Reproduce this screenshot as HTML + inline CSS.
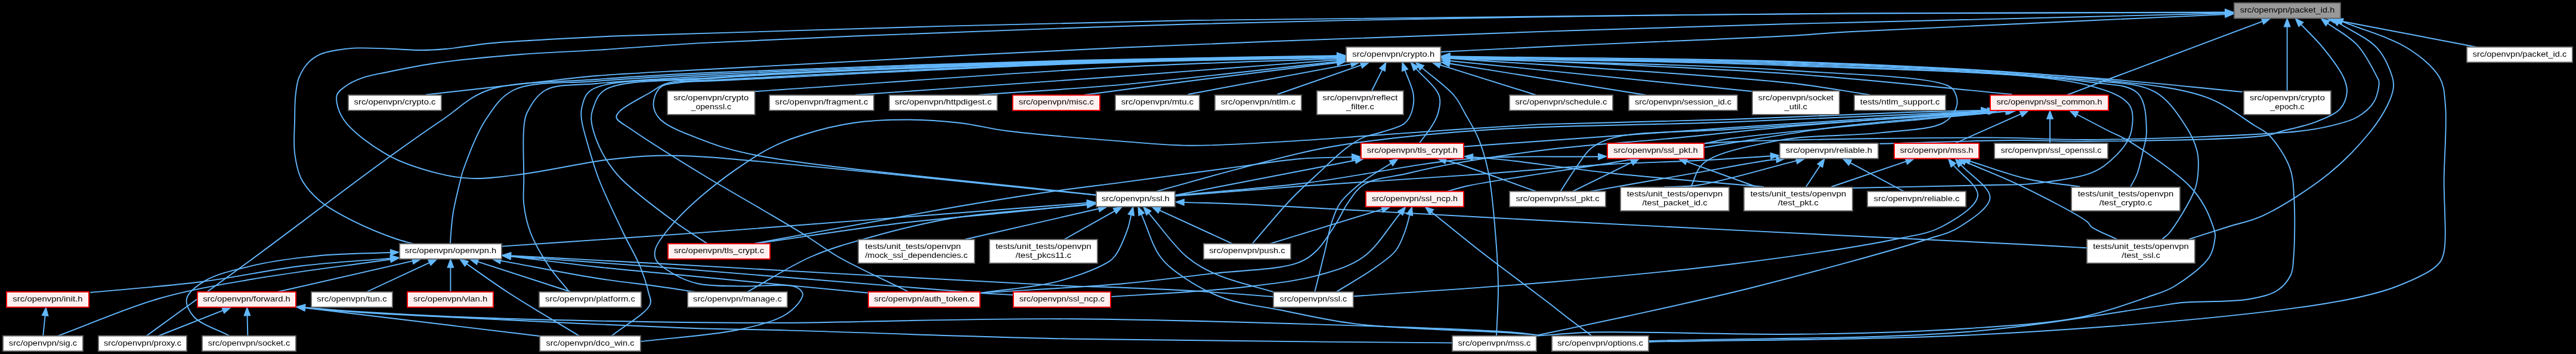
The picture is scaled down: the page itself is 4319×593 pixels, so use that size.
<!DOCTYPE html><html><head><meta charset="utf-8"><style>html,body{margin:0;padding:0;background:#000;}svg{display:block;will-change:transform}text{font-family:"Liberation Sans",sans-serif;font-size:13.4px;fill:#000}</style></head><body>
<svg width="4319" height="593" viewBox="0 0 4319 593">
<rect width="4319" height="593" fill="#000"/>
<g fill="none" stroke="#63b8ff" stroke-width="1.9">
<path d="M692.0,408.0C682.5,405.3 675.0,404.0 663.6,400.0C645.2,393.6 614.9,381.6 593.0,370.6C572.7,360.4 551.7,349.6 536.5,336.7C523.5,325.7 512.5,313.6 505.4,300.0C498.6,286.8 496.1,272.1 494.1,256.5C491.9,239.0 493.8,217.2 494.1,200.0C494.4,185.5 494.1,172.3 495.5,160.0C496.7,149.4 497.5,139.7 501.0,130.6C504.5,121.5 510.4,112.0 516.7,105.2C522.4,99.1 528.9,94.6 536.5,91.1C544.8,87.3 555.2,85.8 564.7,84.0C574.1,82.3 581.9,81.2 593.0,80.6C608.6,79.8 630.7,80.9 649.5,81.5C668.3,82.1 688.6,84.0 706.0,84.0C721.0,84.0 732.2,83.4 748.0,82.0C768.6,80.2 794.2,75.2 819.0,72.7C845.9,70.0 872.0,68.9 903.7,67.0C944.2,64.6 975.2,62.6 1042.0,60.0C1217.8,53.2 1717.8,39.4 2000.0,34.0C2223.3,29.8 2409.1,29.5 2600.0,27.5C2774.3,25.7 2923.6,23.6 3100.0,22.4C3298.4,21.1 3521.5,21.2 3732.3,20.5"/>
<path d="M1838.0,326.8C1618.7,305.4 1292.7,269.6 1180.0,262.7C1141.2,260.3 1128.2,259.9 1101.5,260.7C1073.8,261.5 1048.5,263.8 1016.7,267.8C975.5,273.0 916.7,286.6 875.5,291.8C843.7,295.8 816.1,299.7 790.7,298.9C769.9,298.2 754.6,295.6 734.2,290.4C708.5,283.8 675.6,274.1 649.5,259.3C622.8,244.2 589.2,220.0 576.0,200.0C567.3,186.8 562.4,169.7 564.7,160.0C566.4,153.1 572.9,149.2 578.9,144.7C586.3,139.1 596.4,134.4 607.0,130.6C619.5,126.1 632.9,124.2 649.5,120.7C672.8,115.8 702.1,109.7 734.0,105.2C775.0,99.4 829.8,94.6 875.5,91.0C918.3,87.6 954.7,86.7 1000.0,83.9C1054.5,80.5 1114.3,75.6 1180.0,71.9C1259.3,67.5 1338.8,64.2 1442.7,60.0C1593.9,53.9 1810.8,45.6 2000.0,40.3C2196.3,34.8 2409.1,31.0 2600.0,28.0C2774.3,25.3 2923.6,23.8 3100.0,22.6C3298.4,21.3 3521.5,21.6 3732.3,21.0"/>
<path d="M713.6,158.8C775.7,151.8 847.5,143.5 900.0,137.7C938.5,133.5 961.8,130.2 1000.0,127.0C1051.2,122.8 1100.4,120.9 1180.0,116.5C1337.0,107.8 1645.0,90.4 1880.0,79.8C2118.3,69.0 2395.0,59.5 2600.0,52.4C2752.8,47.1 2911.1,42.4 3000.0,40.0C3044.4,38.8 3052.3,38.9 3100.0,37.8C3219.9,35.0 3521.5,27.5 3732.3,22.3"/>
<path d="M245.0,563.0C303.3,520.7 357.6,481.9 420.0,436.0C492.5,382.7 594.3,305.0 654.0,262.0C690.4,235.8 714.1,219.2 742.7,200.0C768.8,182.4 786.2,162.3 818.6,151.0C864.7,134.9 938.0,137.9 1000.0,133.0C1065.0,127.9 1115.4,125.2 1200.0,121.3C1346.4,114.5 1615.1,105.7 1800.0,101.0C1958.9,96.9 2095.5,95.8 2243.3,93.2"/>
<path d="M755.0,408.0C755.1,405.3 755.1,403.7 755.4,400.0C756.0,391.3 757.2,371.9 759.7,356.5C762.6,338.8 769.2,312.9 772.4,300.0C774.1,293.3 774.1,291.7 776.6,284.7C782.7,267.7 799.1,223.3 814.7,200.0C828.0,180.1 838.7,162.1 861.0,151.0C893.1,135.1 949.4,140.2 1000.0,136.0C1060.6,130.9 1115.4,128.1 1200.0,124.0C1346.4,116.9 1615.1,107.1 1800.0,102.0C1958.9,97.6 2095.5,96.5 2243.3,93.8"/>
<path d="M954.6,489.0C943.3,474.8 931.1,462.2 920.7,446.5C909.3,429.4 896.7,408.5 889.6,390.0C883.4,373.9 880.1,357.9 878.3,342.4C876.6,328.0 878.3,316.6 878.3,300.0C878.3,276.3 876.2,234.0 878.3,214.0C879.4,203.1 879.4,197.7 883.6,189.0C889.4,177.0 899.5,159.4 914.7,151.0C934.8,139.9 965.5,143.3 1000.0,140.0C1052.6,134.9 1115.4,131.4 1200.0,127.0C1346.4,119.3 1615.1,108.5 1800.0,103.0C1958.9,98.3 2095.5,97.2 2243.3,94.3"/>
<path d="M1025.0,563.0C1046.7,545.3 1084.1,524.9 1090.0,510.0C1092.9,502.7 1089.1,497.9 1087.3,490.0C1084.6,478.2 1079.4,461.7 1073.2,446.5C1065.9,428.6 1055.1,411.1 1045.0,390.0C1032.4,363.6 1014.4,326.9 1004.0,300.0C995.9,278.9 990.7,260.2 985.6,242.4C981.3,227.3 976.3,211.5 975.0,200.0C974.1,192.4 973.6,187.5 975.4,180.6C977.7,171.5 979.4,158.9 991.0,151.0C1020.2,131.3 1112.3,136.1 1200.0,129.8C1348.3,119.1 1615.1,109.9 1800.0,104.0C1958.9,98.9 2095.5,97.9 2243.3,94.8"/>
<path d="M1185.6,408.0C1167.0,395.5 1150.1,385.6 1129.7,370.6C1103.4,351.2 1061.7,320.0 1042.0,300.0C1030.1,288.0 1023.8,279.1 1016.7,267.8C1009.9,257.0 1004.1,245.4 999.8,233.9C995.7,222.8 991.7,209.3 991.3,200.0C991.0,193.5 991.5,189.6 993.8,183.4C997.2,174.1 1000.4,159.4 1013.6,151.0C1043.0,132.4 1120.1,137.0 1200.0,131.0C1343.0,120.2 1615.1,111.0 1800.0,105.0C1958.9,99.8 2095.5,98.5 2243.3,95.3"/>
<path d="M1523.7,489.0C1484.1,469.3 1436.7,448.2 1405.0,430.0C1382.6,417.1 1369.4,406.1 1349.5,393.7C1326.9,379.6 1302.2,365.4 1276.0,350.0C1246.2,332.4 1213.7,314.3 1180.0,293.8C1141.8,270.5 1084.1,234.8 1059.0,217.0C1047.1,208.6 1034.8,203.2 1033.5,197.0C1032.7,193.2 1035.4,190.2 1039.0,186.3C1047.1,177.6 1075.3,163.6 1089.8,155.2C1100.5,149.0 1105.6,143.3 1118.0,139.7C1137.8,133.9 1160.1,136.3 1200.0,134.0C1307.9,127.7 1615.1,112.4 1800.0,106.0C1958.9,100.5 2095.5,99.2 2243.3,95.8"/>
<path d="M1838.0,326.8C1647.9,304.5 1374.2,281.1 1267.6,260.0C1225.2,251.6 1207.4,245.7 1180.0,235.3C1154.1,225.5 1120.1,213.4 1107.0,200.0C1099.4,192.2 1095.7,183.6 1095.5,175.0C1095.3,165.9 1099.8,152.9 1106.8,146.7C1114.3,140.1 1127.7,140.1 1140.7,138.2C1157.6,135.7 1169.9,136.8 1200.0,135.4C1295.7,130.9 1615.1,113.6 1800.0,107.0C1958.9,101.3 2095.5,99.9 2243.3,96.3"/>
<path d="M1074.0,572.0C1127.7,565.7 1191.5,562.0 1235.0,553.0C1265.6,546.7 1293.3,540.1 1311.9,530.0C1324.5,523.2 1334.5,513.9 1340.0,506.3C1343.5,501.4 1346.6,496.3 1345.8,492.1C1344.9,487.8 1340.9,483.5 1334.5,480.8C1319.0,474.2 1270.1,480.5 1241.2,479.4C1216.0,478.5 1190.8,479.7 1170.6,475.2C1154.3,471.6 1140.4,465.4 1128.2,458.2C1117.3,451.8 1104.3,443.6 1100.0,435.6C1097.0,430.0 1097.1,424.4 1098.6,418.2C1100.6,409.6 1107.2,400.7 1115.6,390.0C1129.6,372.1 1154.7,346.3 1180.0,325.0C1210.3,299.5 1255.5,267.2 1287.3,250.0C1310.1,237.7 1327.1,232.1 1349.5,225.0C1374.3,217.1 1402.2,210.1 1430.0,206.0C1459.0,201.7 1490.0,200.5 1520.0,200.5C1550.0,200.5 1581.1,202.7 1610.0,206.0C1637.1,209.1 1656.5,215.1 1688.5,219.3C1738.2,225.7 1824.5,232.4 1880.0,236.6C1922.6,239.9 1951.5,243.3 1993.0,243.7C2043.8,244.2 2108.6,239.6 2162.5,236.6C2211.7,233.8 2256.6,230.0 2303.7,226.7C2350.8,223.4 2398.4,219.9 2445.0,216.8C2490.5,213.8 2535.0,211.2 2580.0,208.4"/>
<path d="M841.6,412.6C954.4,404.9 1049.2,398.9 1180.0,389.4C1360.5,376.3 1609.5,356.3 1824.3,339.8"/>
<path d="M1252.5,489.3C1288.3,469.5 1323.8,445.7 1360.0,430.0C1393.9,415.3 1425.6,406.7 1462.5,396.5C1504.7,384.8 1548.3,373.4 1600.0,365.0C1665.4,354.4 1749.5,350.4 1824.3,343.0"/>
<path d="M1266.0,153.2C1470.7,139.6 1702.0,121.7 1880.0,112.3C2016.8,105.1 2122.2,102.8 2243.3,98.0"/>
<path d="M1434.0,159.0C1582.7,148.6 1739.0,138.1 1880.0,127.8C2007.3,118.5 2122.2,109.4 2243.3,100.2"/>
<path d="M1640.5,159.0C1720.3,153.3 1792.0,149.8 1880.0,141.9C1988.6,132.2 2122.2,116.0 2243.4,103.0"/>
<path d="M1818.0,159.0C1878.7,151.0 1934.9,143.3 2000.0,135.0C2075.2,125.4 2162.3,114.8 2243.4,104.7"/>
<path d="M1992.0,158.0L2266.7,106.9"/>
<path d="M2141.8,158.0L2283.5,108.7"/>
<path d="M2414.0,87.0C2476.0,83.9 2538.9,80.7 2600.0,77.8C2659.4,75.0 2713.6,72.8 2775.7,70.0C2845.9,66.9 2940.1,63.4 3000.0,60.0C3040.0,57.7 3052.3,55.9 3100.0,53.2C3219.9,46.4 3521.5,33.8 3732.3,24.1"/>
<path d="M2575.0,159.0L2413.2,108.3"/>
<path d="M2758.8,159.0L2429.0,106.3"/>
<path d="M2936.7,153.0L2429.1,101.7"/>
<path d="M3135.6,159.0C3090.4,152.3 3060.9,145.7 3000.0,139.0C2875.5,125.3 2619.5,111.4 2429.2,97.7"/>
<path d="M3373.0,158.0C3248.7,146.5 3137.6,133.3 3000.0,123.6C2830.0,111.6 2619.5,104.9 2429.2,95.6"/>
<path d="M3466.0,159.0C3491.5,149.3 3509.5,142.4 3542.4,130.0C3602.1,107.5 3710.6,66.8 3794.7,35.3"/>
<path d="M3834.7,152.0L3834.7,43.2"/>
<path d="M3759.9,153.9C3673.3,145.9 3600.8,137.2 3500.0,129.9C3360.4,119.8 3172.2,109.9 3000.0,104.0C2816.1,97.7 2619.5,97.5 2429.2,94.2"/>
<path d="M3670.3,400.6C3692.0,393.7 3714.1,386.8 3735.3,380.0C3755.8,373.5 3773.2,371.1 3795.5,360.6C3827.6,345.5 3874.3,315.3 3905.6,290.0C3932.7,268.0 3957.4,241.4 3974.6,220.0C3987.1,204.5 3996.3,189.8 4002.8,176.5C4007.8,166.4 4011.6,156.7 4012.7,148.2C4013.6,141.6 4013.4,137.3 4011.3,130.0C4007.7,117.3 3998.9,95.2 3985.9,80.8C3970.4,63.6 3942.0,52.0 3920.1,37.7"/>
<path d="M2765.0,572.7C2943.3,569.0 3129.4,569.7 3300.0,561.5C3456.9,554.0 3633.2,540.3 3751.0,527.6C3827.3,519.4 3889.9,511.3 3938.9,501.3C3971.1,494.7 3993.0,489.6 4017.8,480.0C4041.8,470.7 4073.2,456.9 4085.6,445.0C4092.4,438.5 4094.2,435.2 4096.9,425.2C4103.2,401.9 4097.2,341.6 4097.7,300.0C4098.2,258.7 4102.9,207.7 4100.0,176.5C4098.2,157.2 4098.6,144.5 4090.4,130.0C4080.2,112.1 4059.4,95.2 4036.7,80.8C4007.6,62.4 3962.9,50.7 3925.9,35.6"/>
<path d="M4156.0,79.5L3913.5,33.2"/>
<path d="M3572.3,312.6C3576.1,305.1 3580.4,298.7 3583.6,290.0C3587.6,279.2 3590.6,264.5 3593.2,252.4C3595.6,241.2 3599.2,232.6 3598.9,220.0C3598.5,202.4 3598.5,170.6 3584.7,156.7C3568.7,140.5 3540.4,142.8 3500.0,137.0C3403.2,123.0 3172.2,114.8 3000.0,108.0C2816.1,100.8 2619.5,100.2 2429.2,96.3"/>
<path d="M3625.0,400.6C3629.1,397.1 3632.5,395.7 3637.3,390.0C3648.1,377.1 3672.5,337.1 3679.7,318.2C3683.9,307.1 3684.5,300.1 3685.3,290.0C3686.2,278.4 3686.7,265.0 3683.6,252.4C3680.1,238.4 3673.4,224.4 3663.8,210.0C3651.6,191.7 3636.1,166.6 3613.0,153.9C3584.6,138.2 3551.3,140.0 3500.0,134.1C3392.8,121.7 3172.2,112.2 3000.0,106.0C2816.1,99.3 2619.5,99.8 2429.2,96.7"/>
<path d="M2765.0,571.0C2943.3,565.9 3144.8,568.5 3300.0,555.8C3420.4,546.0 3565.0,520.3 3619.4,512.6C3638.1,509.9 3641.1,508.6 3657.0,507.0C3684.5,504.3 3740.2,506.5 3769.8,501.3C3789.7,497.8 3806.3,494.4 3818.6,486.3C3828.7,479.6 3836.6,469.7 3841.0,460.0C3845.1,451.0 3844.5,443.4 3845.5,430.8C3847.4,407.7 3848.1,359.9 3846.3,332.4C3845.0,312.3 3845.2,297.4 3839.0,280.6C3832.2,262.1 3816.8,239.1 3805.0,227.0C3796.8,218.6 3790.7,216.9 3779.7,210.0C3760.3,197.9 3732.4,174.7 3697.7,162.4C3647.3,144.5 3581.2,140.0 3500.0,131.3C3371.6,117.6 3172.2,109.1 3000.0,103.0C2816.1,96.5 2619.5,97.8 2429.2,95.2"/>
<path d="M2575.6,562.9C2605.3,560.8 2625.0,557.9 2664.6,556.7C2743.4,554.3 2907.7,561.2 3019.0,559.8C3118.1,558.5 3215.8,555.8 3300.0,550.2C3369.0,545.6 3433.7,542.1 3487.9,531.4C3530.7,522.9 3571.8,507.6 3600.6,497.6C3619.0,491.2 3629.9,489.0 3645.0,480.0C3664.2,468.6 3693.4,447.4 3704.2,430.8C3711.5,419.6 3713.2,404.1 3714.0,397.0C3714.4,393.8 3714.3,393.3 3713.6,390.0C3711.8,381.6 3704.0,359.9 3696.6,346.5C3689.3,333.3 3682.8,323.2 3669.5,310.0C3647.4,288.0 3592.4,250.4 3567.8,235.4C3554.9,227.5 3548.5,226.0 3536.7,220.0C3520.8,211.9 3499.6,200.6 3481.0,191.0"/>
<path d="M151.3,490.0C213.4,484.0 277.2,479.7 337.7,472.0C395.6,464.6 452.2,451.8 507.0,445.2C558.2,439.0 606.5,436.8 656.3,432.6"/>
<path d="M72.2,563.0L75.8,527.2"/>
<path d="M96.3,563.0C153.2,542.0 210.8,516.1 267.0,500.0C319.5,485.0 365.2,477.8 422.5,467.8C492.4,455.6 578.4,445.4 656.4,434.2"/>
<path d="M264.9,563.0L375.3,519.4"/>
<path d="M415.4,563.0L414.5,527.2"/>
<path d="M385.3,563.0C365.2,552.2 336.6,543.6 325.0,530.5C317.0,521.5 311.0,509.8 313.0,500.4C315.3,489.6 329.6,478.9 343.4,470.6C362.7,459.0 393.5,452.0 422.5,445.2C456.5,437.2 497.1,431.9 535.5,428.2C575.0,424.4 616.0,424.7 656.3,423.0"/>
<path d="M464.9,489.0L693.2,436.9"/>
<path d="M614.6,489.0L721.3,439.4"/>
<path d="M755.4,489.0L755.4,446.5"/>
<path d="M971.7,563.0C931.8,538.7 886.4,512.4 852.0,490.0C825.0,472.5 804.8,457.4 781.2,441.1"/>
<path d="M957.4,489.0L799.5,437.9"/>
<path d="M1166.0,489.0C1145.7,486.0 1128.1,483.2 1105.0,480.0C1074.7,475.7 1038.7,472.1 1000.0,466.0C951.7,458.4 891.9,446.2 837.9,436.4"/>
<path d="M904.8,563.0L509.7,515.5"/>
<path d="M2576.6,561.0C2560.4,559.3 2553.8,557.7 2528.0,556.0C2428.4,549.4 2017.6,536.1 1800.0,534.3C1623.1,532.8 1438.3,540.2 1319.0,540.7C1248.3,541.0 1216.5,540.9 1150.0,540.0C1054.3,538.7 900.4,535.7 800.0,532.0C724.0,529.2 653.6,525.4 600.0,522.0C564.0,519.7 539.8,517.3 509.7,515.0"/>
<path d="M2434.7,574.4C2223.1,572.2 1996.9,571.8 1800.0,567.8C1628.6,564.3 1438.3,556.6 1319.0,553.4C1248.3,551.5 1216.5,551.8 1150.0,549.5C1054.3,546.2 900.4,538.4 800.0,533.5C724.1,529.8 653.6,526.6 600.0,523.0C564.0,520.6 539.8,518.0 509.7,515.5"/>
<path d="M1456.0,490.7C1337.3,479.4 1182.2,464.7 1100.0,456.8C1056.4,452.6 1036.4,451.0 1000.0,447.0C956.0,442.2 903.1,435.2 854.7,429.3"/>
<path d="M1698.0,494.0C1679.3,492.9 1670.2,492.7 1642.0,490.7C1554.1,484.6 1245.3,458.1 1100.0,447.0C1002.3,439.5 936.5,435.2 854.7,429.3"/>
<path d="M2134.8,496.9C2092.5,493.9 2052.3,490.4 2008.0,487.8C1959.2,484.9 1892.2,482.2 1854.0,480.8C1831.4,480.0 1828.2,480.5 1800.0,479.4C1698.5,475.3 1273.5,450.7 1100.0,441.3C997.3,435.7 936.5,432.5 854.7,428.1"/>
<path d="M1264.7,408.0C1370.7,388.7 1491.4,365.7 1582.6,350.0C1651.2,338.2 1709.7,328.6 1763.4,320.8C1806.5,314.5 1835.9,311.4 1880.0,305.6C1937.7,298.0 2024.8,286.1 2080.0,278.9C2119.0,273.8 2147.6,268.6 2180.0,266.0C2210.3,263.5 2238.8,264.0 2268.3,262.9"/>
<path d="M1268.0,408.0C1345.3,397.0 1425.4,384.0 1500.0,375.0C1569.0,366.6 1641.2,361.0 1700.0,355.0C1746.3,350.3 1782.9,346.4 1824.3,342.1"/>
<path d="M1617.9,401.0L1843.7,349.3"/>
<path d="M1784.5,401.0L1870.3,352.7"/>
<path d="M1645.2,490.7C1686.6,484.6 1733.1,481.5 1769.5,472.4C1799.2,465.0 1831.4,453.1 1848.6,444.1C1857.9,439.3 1862.4,437.1 1868.4,430.0C1877.0,419.8 1885.6,397.7 1890.4,384.4C1893.9,374.8 1894.7,367.2 1896.8,358.7"/>
<path d="M2576.6,561.0C2560.4,559.8 2550.6,558.9 2528.0,557.4C2476.4,554.0 2343.7,551.0 2273.7,542.6C2223.8,536.6 2185.6,526.9 2146.6,519.3C2113.1,512.8 2081.4,509.9 2053.4,500.0C2028.3,491.2 2004.6,478.1 1985.6,465.2C1969.7,454.4 1956.7,445.4 1945.4,430.0C1931.6,411.3 1924.0,381.9 1913.3,357.8"/>
<path d="M2134.8,489.0C2103.9,479.6 2068.0,472.1 2042.0,460.7C2021.4,451.7 2006.7,444.3 1989.5,430.0C1967.6,411.8 1946.6,380.5 1925.1,355.8"/>
<path d="M2066.6,408.3L1942.8,351.7"/>
<path d="M2129.0,408.3L2318.7,350.2"/>
<path d="M2099.6,408.3C2120.9,383.9 2143.3,356.1 2163.4,335.0C2179.9,317.7 2194.9,304.5 2210.5,290.0C2225.6,276.0 2242.0,259.8 2255.7,249.3C2265.9,241.5 2273.8,235.7 2284.0,231.0C2294.4,226.2 2306.4,224.9 2317.8,221.0C2329.9,216.9 2346.4,213.5 2354.6,207.0C2360.5,202.3 2363.4,196.8 2366.0,190.0C2369.1,181.7 2371.1,170.8 2370.0,160.0C2368.7,146.6 2360.1,130.8 2355.1,116.2"/>
<path d="M2380.0,239.5C2386.6,230.5 2394.4,221.4 2399.8,212.6C2404.5,204.9 2408.8,198.3 2411.0,190.0C2413.4,180.9 2416.2,170.3 2412.7,160.0C2407.8,145.3 2386.5,129.3 2373.4,114.0"/>
<path d="M2509.0,563.0C2510.0,535.3 2512.2,507.4 2512.0,480.0C2511.8,453.1 2510.3,428.7 2508.0,400.0C2505.3,366.2 2501.9,320.6 2495.8,290.0C2491.3,267.5 2486.0,249.8 2478.9,232.4C2472.5,216.8 2463.6,202.8 2456.3,190.0C2450.0,179.0 2446.8,170.4 2438.0,160.0C2425.3,145.0 2401.4,128.4 2383.0,112.6"/>
<path d="M1969.0,327.3L2274.0,268.2"/>
<path d="M1969.0,327.3C2041.3,320.5 2109.6,316.2 2186.0,307.0C2272.1,296.6 2373.3,273.5 2460.0,266.3C2537.5,259.9 2607.5,263.6 2681.3,262.2"/>
<path d="M1969.0,328.5C2041.3,322.8 2109.4,317.0 2186.0,311.5C2272.0,305.3 2371.7,299.7 2460.0,293.4C2542.7,287.5 2629.3,279.2 2700.0,275.0C2755.8,271.7 2802.8,271.3 2850.0,268.8C2892.3,266.6 2930.2,263.7 2970.3,261.2"/>
<path d="M1939.3,320.4C1986.2,307.6 2034.9,293.7 2080.0,281.9C2121.5,271.0 2163.6,259.6 2200.0,252.0C2229.9,245.7 2248.4,242.5 2282.5,238.0C2337.7,230.7 2416.4,222.3 2500.0,217.0C2613.1,209.8 2764.0,209.6 2900.0,204.5C3041.7,199.2 3189.2,192.0 3333.8,185.8"/>
<path d="M2455.0,245.5C2603.3,235.0 2752.4,224.0 2900.0,214.0C3046.0,204.1 3190.5,195.4 3335.8,186.0"/>
<path d="M2857.6,240.7C2871.7,237.9 2878.2,235.5 2900.0,232.3C2971.7,221.7 3209.5,201.7 3364.3,186.5"/>
<path d="M2616.3,320.6C2625.2,307.1 2633.9,292.6 2643.0,280.0C2651.3,268.5 2657.6,256.1 2668.4,247.8C2679.9,239.0 2691.0,234.2 2710.7,229.4C2750.7,219.7 2822.9,221.8 2900.0,216.7C3021.3,208.7 3212.0,196.3 3368.0,186.1"/>
<path d="M2575.6,320.6C2530.4,304.7 2463.9,280.1 2440.0,273.0C2431.6,270.5 2428.4,270.2 2422.7,268.8"/>
<path d="M2636.7,320.6L2737.1,271.4"/>
<path d="M2666.0,320.6C2726.3,310.0 2793.3,298.2 2846.9,288.9C2889.9,281.4 2941.6,271.7 2963.0,268.8C2971.1,267.7 2974.2,267.7 2979.8,267.1"/>
<path d="M2790.0,313.3C2810.0,312.1 2825.3,313.5 2850.0,309.7C2891.3,303.4 2958.9,282.5 3013.4,268.9"/>
<path d="M3028.0,313.0L3052.3,276.2"/>
<path d="M3191.8,320.5L3100.8,271.8"/>
<path d="M3070.3,313.0L3197.4,269.9"/>
<path d="M3104.0,315.0C3186.0,313.2 3299.0,310.9 3350.0,309.7C3373.0,309.2 3380.5,310.2 3400.0,308.4C3427.7,305.8 3477.3,299.3 3500.0,291.9C3512.6,287.8 3518.7,284.5 3528.0,277.8C3539.4,269.5 3554.2,255.0 3562.0,244.0C3567.8,235.8 3571.6,229.5 3573.4,220.0C3575.7,207.9 3578.6,188.4 3570.6,176.5C3559.8,160.5 3535.5,151.9 3500.0,142.6C3410.1,119.0 3172.3,117.5 3000.0,110.0C2816.1,102.0 2619.5,101.5 2429.2,97.3"/>
<path d="M2957.0,313.0C2871.3,305.3 2777.9,298.4 2700.0,290.0C2634.9,283.0 2563.2,272.1 2521.0,267.6C2498.0,265.2 2485.5,264.5 2467.7,262.9"/>
<path d="M2945.0,313.0L2826.2,270.1"/>
<path d="M3278.0,240.0L3389.7,190.3"/>
<path d="M3437.0,239.0L3437.0,197.7"/>
<path d="M3151.2,240.7C3227.5,238.8 3315.9,235.3 3380.0,235.0C3426.4,234.8 3451.0,237.2 3500.0,236.8C3577.4,236.1 3754.5,233.8 3799.4,227.0C3812.7,225.0 3814.7,222.8 3824.9,220.0C3840.0,215.9 3864.3,211.5 3881.4,204.7C3896.9,198.6 3914.8,192.0 3923.7,182.1C3930.8,174.2 3934.3,163.0 3935.0,153.9C3935.6,145.7 3933.4,139.0 3929.4,130.0C3923.2,116.0 3907.8,96.0 3895.5,80.8C3883.6,66.0 3869.8,53.5 3857.0,39.9"/>
<path d="M2858.0,240.0C2883.6,238.8 2898.9,237.4 2934.7,236.3C3017.9,233.7 3246.1,230.1 3350.0,230.6C3412.5,230.9 3439.5,234.5 3500.0,234.0C3592.9,233.2 3785.8,227.0 3853.0,220.0C3880.1,217.2 3892.2,214.7 3909.6,210.4C3924.9,206.6 3939.9,203.3 3952.0,196.3C3963.1,189.8 3974.1,181.0 3980.2,170.8C3986.0,161.1 3989.2,144.0 3988.7,137.0C3988.5,133.7 3987.6,133.3 3985.9,130.0C3981.0,120.3 3966.2,90.6 3952.0,75.2C3938.0,60.1 3918.3,50.5 3901.5,38.2"/>
<path d="M2580.0,208.4C2686.7,205.6 2795.1,203.5 2900.0,200.0C3001.6,196.6 3121.9,190.5 3200.0,188.0C3250.1,186.4 3282.2,185.9 3323.3,184.9"/>
<path d="M1645.2,490.7C1724.3,485.5 1812.7,481.4 1882.5,475.2C1937.8,470.3 1981.9,464.1 2030.8,458.4C2078.8,452.8 2143.0,451.9 2173.4,441.2C2189.5,435.5 2196.9,429.8 2207.3,420.0C2219.9,408.1 2231.9,387.0 2241.2,372.4C2248.6,360.8 2252.3,350.4 2259.7,340.0C2267.6,329.0 2274.6,316.4 2287.6,308.5C2304.8,298.1 2335.0,296.2 2358.8,290.7C2382.5,285.2 2401.1,280.7 2430.0,275.4C2474.4,267.3 2540.9,257.1 2600.0,250.0C2663.9,242.4 2733.3,238.3 2800.0,232.0C2866.7,225.7 2924.7,218.7 3000.0,212.0C3097.6,203.4 3224.2,194.8 3336.3,186.2"/>
<path d="M2204.5,488.6C2210.2,465.7 2216.5,440.8 2221.5,420.0C2225.7,402.7 2228.1,386.6 2232.8,372.4C2236.8,360.4 2239.8,350.3 2247.0,340.0C2255.5,327.9 2269.1,316.7 2282.6,306.0C2297.6,294.1 2316.5,283.8 2333.5,272.7"/>
<path d="M2241.2,488.6C2260.8,476.4 2282.6,464.3 2300.0,452.0C2315.0,441.4 2330.5,432.0 2340.0,420.0C2348.1,409.8 2351.9,397.3 2356.0,386.5C2359.6,376.9 2361.3,367.9 2363.9,358.6"/>
<path d="M1863.6,496.9C1911.8,493.9 1965.5,491.1 2008.2,487.8C2042.3,485.2 2068.0,483.4 2100.0,479.3C2135.5,474.7 2178.7,470.1 2211.7,460.7C2239.6,452.8 2264.3,446.1 2286.4,430.0C2310.6,412.4 2328.0,380.7 2348.7,356.1"/>
<path d="M2668.0,562.0C2653.8,551.3 2637.7,539.5 2625.4,530.0C2615.8,522.6 2611.6,519.0 2600.0,510.0C2575.0,490.7 2516.8,447.9 2481.0,420.0C2451.0,396.6 2426.4,376.2 2399.2,354.4"/>
<path d="M3498.6,415.3C3482.4,414.4 3466.3,413.4 3450.0,412.5C3433.5,411.6 3426.7,411.2 3400.0,409.8C3293.3,404.3 2835.5,382.3 2600.0,370.0C2413.8,360.3 2208.5,347.5 2100.0,342.7C2047.7,340.4 2022.5,340.1 1983.7,338.9"/>
<path d="M2269.5,496.3C2379.7,488.4 2491.6,481.8 2600.0,472.5C2705.2,463.5 2810.6,454.2 2910.7,441.5C3004.9,429.6 3122.7,412.6 3184.0,399.5C3215.6,392.8 3233.4,391.5 3255.0,380.0C3277.6,368.0 3314.3,346.1 3316.0,327.8C3317.6,311.1 3288.2,293.0 3274.3,275.5"/>
<path d="M2575.6,562.0C2626.0,551.3 2671.9,542.1 2726.8,530.0C2792.9,515.4 2867.5,499.6 2944.8,480.0C3033.9,457.5 3172.8,420.0 3230.6,401.0C3256.4,392.5 3268.6,390.8 3285.6,380.0C3304.2,368.2 3335.9,348.2 3336.5,331.0C3337.2,313.3 3303.3,293.8 3286.7,275.2"/>
<path d="M3548.9,400.6C3534.8,393.7 3514.2,386.1 3506.5,380.0C3502.9,377.1 3504.1,375.3 3500.0,371.9C3485.8,360.0 3423.5,328.4 3387.4,310.9C3355.2,295.3 3325.3,284.2 3294.2,270.8"/>
<path d="M3487.6,312.6C3458.4,308.4 3429.8,306.7 3400.0,300.0C3367.8,292.8 3334.1,279.7 3301.2,269.6"/>
<path d="M2300.0,152.0L2318.2,115.6"/>
<path d="M2835.0,313.0C2842.2,299.7 2842.9,284.1 2856.6,273.0C2880.0,254.0 2937.8,243.5 2983.7,235.0C3035.6,225.4 3103.3,228.2 3153.0,222.4C3192.6,217.8 3238.3,217.3 3259.0,205.4C3270.5,198.8 3277.0,188.5 3280.0,180.0C3282.3,173.4 3281.8,165.9 3279.7,160.0C3277.7,154.2 3276.1,149.2 3268.0,144.7C3237.6,127.8 3106.2,125.1 3000.0,118.0C2845.4,107.6 2619.5,104.6 2429.2,97.9"/>
<path d="M2425.5,321.0C2437.0,317.8 2443.2,315.2 2460.0,311.5C2503.8,302.0 2623.7,285.4 2700.0,273.0C2769.7,261.7 2833.3,250.5 2900.0,240.0C2966.6,229.5 3028.5,218.5 3100.0,210.0C3182.0,200.2 3276.7,194.2 3365.0,186.4"/>
</g><g fill="#63b8ff" stroke="#63b8ff" stroke-width="1.33">
<polygon points="3744.8,20.5 3730.8,25.7 3730.7,15.3"/>
<polygon points="3744.8,21.0 3730.8,26.2 3730.7,15.8"/>
<polygon points="3744.8,22.0 3730.9,27.5 3730.6,17.2"/>
<polygon points="2255.8,93.0 2241.8,98.5 2241.7,88.1"/>
<polygon points="2255.8,93.5 2241.8,99.0 2241.7,88.6"/>
<polygon points="2255.8,94.0 2241.9,99.5 2241.7,89.1"/>
<polygon points="2255.8,94.5 2241.9,100.0 2241.6,89.6"/>
<polygon points="2255.8,95.0 2241.9,100.5 2241.6,90.1"/>
<polygon points="2255.8,95.5 2241.9,101.0 2241.6,90.7"/>
<polygon points="2255.8,96.0 2241.9,101.6 2241.6,91.2"/>
<polygon points="1836.7,338.9 1823.2,345.1 1822.4,334.8"/>
<polygon points="1836.7,341.8 1823.3,348.4 1822.3,338.0"/>
<polygon points="2255.8,97.5 2242.0,103.3 2241.6,92.9"/>
<polygon points="2255.8,99.2 2242.2,105.5 2241.4,95.1"/>
<polygon points="2255.8,101.7 2242.4,108.3 2241.3,98.0"/>
<polygon points="2255.8,103.1 2242.6,110.0 2241.3,99.7"/>
<polygon points="2279.0,104.6 2266.2,112.3 2264.3,102.0"/>
<polygon points="2295.3,104.6 2283.8,114.1 2280.4,104.3"/>
<polygon points="3744.8,23.5 3731.0,29.3 3730.5,19.0"/>
<polygon points="2401.3,104.6 2416.2,103.8 2413.1,113.7"/>
<polygon points="2416.7,104.4 2431.3,101.4 2429.7,111.7"/>
<polygon points="2416.6,100.4 2431.1,96.6 2430.0,107.0"/>
<polygon points="2416.8,96.8 2431.1,92.6 2430.3,103.0"/>
<polygon points="2416.8,94.9 2431.0,90.4 2430.5,100.8"/>
<polygon points="3806.4,30.9 3795.1,40.7 3791.5,30.9"/>
<polygon points="3834.7,30.8 3839.9,44.8 3829.5,44.8"/>
<polygon points="2416.8,94.0 2430.8,89.0 2430.7,99.4"/>
<polygon points="3909.7,30.8 3924.2,34.1 3918.5,42.8"/>
<polygon points="3914.4,30.9 3929.3,31.4 3925.4,41.0"/>
<polygon points="3901.2,30.9 3916.0,28.4 3914.0,38.6"/>
<polygon points="2416.8,96.0 2430.9,91.1 2430.6,101.5"/>
<polygon points="2416.8,96.5 2430.8,91.5 2430.7,101.9"/>
<polygon points="2416.8,95.0 2430.8,90.0 2430.7,100.4"/>
<polygon points="3469.9,185.2 3484.8,187.1 3480.0,196.3"/>
<polygon points="668.7,431.5 655.2,437.9 654.4,427.5"/>
<polygon points="77.1,514.8 80.8,529.2 70.5,528.2"/>
<polygon points="668.7,432.4 655.6,439.5 654.1,429.2"/>
<polygon points="386.9,514.9 375.8,524.8 372.0,515.2"/>
<polygon points="414.2,514.8 419.7,528.6 409.3,528.9"/>
<polygon points="668.7,422.5 655.0,428.3 654.5,417.9"/>
<polygon points="705.4,434.1 692.9,442.3 690.6,432.2"/>
<polygon points="732.7,434.1 722.2,444.7 717.8,435.3"/>
<polygon points="755.4,434.0 760.6,448.0 750.2,448.0"/>
<polygon points="770.9,434.0 785.4,437.7 779.5,446.2"/>
<polygon points="787.7,434.1 802.6,433.4 799.4,443.3"/>
<polygon points="825.6,434.1 840.3,431.5 838.4,441.7"/>
<polygon points="497.3,514.0 511.8,510.5 510.5,520.8"/>
<polygon points="497.3,514.0 511.6,509.9 510.8,520.3"/>
<polygon points="497.3,514.5 511.6,510.5 510.8,520.8"/>
<polygon points="842.3,427.8 856.8,424.3 855.5,434.6"/>
<polygon points="842.3,428.4 856.6,424.2 855.8,434.6"/>
<polygon points="842.3,427.4 856.5,423.0 856.0,433.4"/>
<polygon points="2280.8,262.5 2266.9,268.2 2266.6,257.8"/>
<polygon points="1836.7,340.8 1823.4,347.4 1822.3,337.1"/>
<polygon points="1855.9,346.5 1843.4,354.7 1841.1,344.6"/>
<polygon points="1881.1,346.5 1871.5,357.9 1866.4,348.9"/>
<polygon points="1899.8,346.5 1901.5,361.4 1891.4,358.9"/>
<polygon points="1908.2,346.4 1918.6,357.0 1909.1,361.3"/>
<polygon points="1916.9,346.4 1930.0,353.5 1922.2,360.3"/>
<polygon points="1931.5,346.5 1946.4,347.6 1942.0,357.0"/>
<polygon points="2330.7,346.5 2318.8,355.6 2315.8,345.6"/>
<polygon points="2351.1,104.4 2360.5,116.0 2350.7,119.3"/>
<polygon points="2365.3,104.5 2378.3,111.8 2370.4,118.5"/>
<polygon points="2373.6,104.5 2387.6,109.7 2380.8,117.5"/>
<polygon points="2286.2,265.9 2273.5,273.6 2271.5,263.4"/>
<polygon points="2693.8,262.0 2679.8,267.5 2679.7,257.1"/>
<polygon points="2982.8,260.4 2969.1,266.5 2968.5,256.1"/>
<polygon points="3346.3,185.2 3332.5,191.0 3332.0,180.7"/>
<polygon points="3348.3,185.2 3334.6,191.3 3334.0,180.9"/>
<polygon points="3376.7,185.2 3363.3,191.8 3362.3,181.4"/>
<polygon points="3380.5,185.2 3366.8,191.4 3366.2,181.0"/>
<polygon points="2410.5,265.9 2425.3,264.1 2422.9,274.2"/>
<polygon points="2748.3,265.9 2738.0,276.7 2733.4,267.4"/>
<polygon points="2992.2,265.9 2978.8,272.4 2977.8,262.1"/>
<polygon points="3025.5,265.9 3013.2,274.3 3010.6,264.2"/>
<polygon points="3059.1,265.8 3055.8,280.3 3047.1,274.6"/>
<polygon points="3089.8,265.9 3104.6,267.9 3099.7,277.1"/>
<polygon points="3209.3,265.8 3197.7,275.3 3194.3,265.4"/>
<polygon points="2416.8,97.0 2430.9,92.1 2430.6,102.5"/>
<polygon points="2455.3,261.8 2469.7,257.9 2468.8,268.2"/>
<polygon points="2814.5,265.9 2829.4,265.7 2825.9,275.5"/>
<polygon points="3401.1,185.2 3390.4,195.6 3386.2,186.1"/>
<polygon points="3437.0,185.2 3442.2,199.2 3431.8,199.2"/>
<polygon points="3848.4,30.8 3861.8,37.4 3854.2,44.6"/>
<polygon points="3891.4,30.8 3905.8,34.9 3899.6,43.3"/>
<polygon points="3335.8,184.6 3321.9,190.2 3321.6,179.8"/>
<polygon points="3348.8,185.2 3335.2,191.5 3334.4,181.1"/>
<polygon points="2343.9,265.9 2335.1,277.9 2329.4,269.2"/>
<polygon points="2367.3,346.5 2368.5,361.4 2358.5,358.6"/>
<polygon points="2356.8,346.5 2351.8,360.6 2343.8,353.9"/>
<polygon points="2389.4,346.5 2403.6,351.2 2397.1,359.3"/>
<polygon points="1971.3,338.4 1985.4,333.7 1985.1,344.1"/>
<polygon points="3266.5,265.8 3279.3,273.5 3271.2,280.0"/>
<polygon points="3278.3,265.9 3291.5,272.9 3283.8,279.8"/>
<polygon points="3282.8,265.8 3297.7,266.6 3293.6,276.2"/>
<polygon points="3289.2,265.9 3304.1,265.0 3301.1,275.0"/>
<polygon points="2323.8,104.4 2322.2,119.3 2312.9,114.6"/>
<polygon points="2416.8,97.5 2430.9,92.8 2430.6,103.2"/>
<polygon points="3377.5,185.2 3364.0,191.7 3363.1,181.3"/>
</g>
<rect x="3746.00" y="5.00" width="178.00" height="25.60" fill="#999999" stroke="#666666" stroke-width="1.9"/>
<text x="3835.00" y="21.10" text-anchor="middle" textLength="158.63" lengthAdjust="spacingAndGlyphs">src/openvpn/packet_id.h</text>
<rect x="2257.00" y="78.70" width="158.50" height="25.60" fill="#ffffff" stroke="#666666" stroke-width="1.9"/>
<text x="2336.25" y="94.80" text-anchor="middle" textLength="138.00" lengthAdjust="spacingAndGlyphs">src/openvpn/crypto.h</text>
<rect x="4136.00" y="78.70" width="177.00" height="25.60" fill="#ffffff" stroke="#666666" stroke-width="1.9"/>
<text x="4224.50" y="94.80" text-anchor="middle" textLength="157.54" lengthAdjust="spacingAndGlyphs">src/openvpn/packet_id.c</text>
<rect x="584.00" y="159.35" width="156.00" height="25.60" fill="#ffffff" stroke="#666666" stroke-width="1.9"/>
<text x="662.00" y="175.45" text-anchor="middle" textLength="136.91" lengthAdjust="spacingAndGlyphs">src/openvpn/crypto.c</text>
<rect x="1119.00" y="152.35" width="146.60" height="39.60" fill="#ffffff" stroke="#666666" stroke-width="1.9"/>
<text x="1192.30" y="167.95" text-anchor="middle" textLength="125.86" lengthAdjust="spacingAndGlyphs">src/openvpn/crypto</text>
<text x="1192.30" y="182.75" text-anchor="middle" textLength="67.38" lengthAdjust="spacingAndGlyphs">_openssl.c</text>
<rect x="1290.00" y="159.35" width="175.00" height="25.60" fill="#ffffff" stroke="#666666" stroke-width="1.9"/>
<text x="1377.50" y="175.45" text-anchor="middle" textLength="155.78" lengthAdjust="spacingAndGlyphs">src/openvpn/fragment.c</text>
<rect x="1491.00" y="159.35" width="181.00" height="25.60" fill="#ffffff" stroke="#666666" stroke-width="1.9"/>
<text x="1581.50" y="175.45" text-anchor="middle" textLength="162.32" lengthAdjust="spacingAndGlyphs">src/openvpn/httpdigest.c</text>
<rect x="1698.00" y="159.35" width="146.00" height="25.60" fill="#fff0f0" stroke="#ff0000" stroke-width="1.9"/>
<text x="1771.00" y="175.45" text-anchor="middle" textLength="125.84" lengthAdjust="spacingAndGlyphs">src/openvpn/misc.c</text>
<rect x="1870.00" y="159.35" width="141.00" height="25.60" fill="#ffffff" stroke="#666666" stroke-width="1.9"/>
<text x="1940.50" y="175.45" text-anchor="middle" textLength="121.65" lengthAdjust="spacingAndGlyphs">src/openvpn/mtu.c</text>
<rect x="2037.00" y="159.35" width="145.00" height="25.60" fill="#ffffff" stroke="#666666" stroke-width="1.9"/>
<text x="2109.50" y="175.45" text-anchor="middle" textLength="125.26" lengthAdjust="spacingAndGlyphs">src/openvpn/ntlm.c</text>
<rect x="2208.00" y="152.35" width="145.00" height="39.60" fill="#ffffff" stroke="#666666" stroke-width="1.9"/>
<text x="2280.50" y="167.95" text-anchor="middle" textLength="125.86" lengthAdjust="spacingAndGlyphs">src/openvpn/reflect</text>
<text x="2280.50" y="182.75" text-anchor="middle" textLength="46.83" lengthAdjust="spacingAndGlyphs">_filter.c</text>
<rect x="2531.00" y="159.35" width="173.00" height="25.60" fill="#ffffff" stroke="#666666" stroke-width="1.9"/>
<text x="2617.50" y="175.45" text-anchor="middle" textLength="153.91" lengthAdjust="spacingAndGlyphs">src/openvpn/schedule.c</text>
<rect x="2731.00" y="159.35" width="182.00" height="25.60" fill="#ffffff" stroke="#666666" stroke-width="1.9"/>
<text x="2822.00" y="175.45" text-anchor="middle" textLength="162.13" lengthAdjust="spacingAndGlyphs">src/openvpn/session_id.c</text>
<rect x="2938.00" y="152.35" width="146.00" height="39.60" fill="#ffffff" stroke="#666666" stroke-width="1.9"/>
<text x="3011.00" y="167.95" text-anchor="middle" textLength="126.40" lengthAdjust="spacingAndGlyphs">src/openvpn/socket</text>
<text x="3011.00" y="182.75" text-anchor="middle" textLength="38.34" lengthAdjust="spacingAndGlyphs">_util.c</text>
<rect x="3109.00" y="159.35" width="153.00" height="25.60" fill="#ffffff" stroke="#666666" stroke-width="1.9"/>
<text x="3185.50" y="175.45" text-anchor="middle" textLength="133.42" lengthAdjust="spacingAndGlyphs">tests/ntlm_support.c</text>
<rect x="3337.00" y="159.35" width="198.00" height="25.60" fill="#fff0f0" stroke="#ff0000" stroke-width="1.9"/>
<text x="3436.00" y="175.45" text-anchor="middle" textLength="177.02" lengthAdjust="spacingAndGlyphs">src/openvpn/ssl_common.h</text>
<rect x="3762.00" y="152.35" width="146.00" height="39.60" fill="#ffffff" stroke="#666666" stroke-width="1.9"/>
<text x="3835.00" y="167.95" text-anchor="middle" textLength="125.86" lengthAdjust="spacingAndGlyphs">src/openvpn/crypto</text>
<text x="3835.00" y="182.75" text-anchor="middle" textLength="57.37" lengthAdjust="spacingAndGlyphs">_epoch.c</text>
<rect x="2282.00" y="240.00" width="172.00" height="25.60" fill="#fff0f0" stroke="#ff0000" stroke-width="1.9"/>
<text x="2368.00" y="256.10" text-anchor="middle" textLength="152.26" lengthAdjust="spacingAndGlyphs">src/openvpn/tls_crypt.h</text>
<rect x="2695.00" y="240.00" width="162.00" height="25.60" fill="#fff0f0" stroke="#ff0000" stroke-width="1.9"/>
<text x="2776.00" y="256.10" text-anchor="middle" textLength="141.27" lengthAdjust="spacingAndGlyphs">src/openvpn/ssl_pkt.h</text>
<rect x="2984.00" y="240.00" width="165.00" height="25.60" fill="#ffffff" stroke="#666666" stroke-width="1.9"/>
<text x="3066.50" y="256.10" text-anchor="middle" textLength="144.85" lengthAdjust="spacingAndGlyphs">src/openvpn/reliable.h</text>
<rect x="3176.00" y="240.00" width="142.00" height="25.60" fill="#fff0f0" stroke="#ff0000" stroke-width="1.9"/>
<text x="3247.00" y="256.10" text-anchor="middle" textLength="122.95" lengthAdjust="spacingAndGlyphs">src/openvpn/mss.h</text>
<rect x="3344.00" y="240.00" width="190.00" height="25.60" fill="#ffffff" stroke="#666666" stroke-width="1.9"/>
<text x="3439.00" y="256.10" text-anchor="middle" textLength="168.91" lengthAdjust="spacingAndGlyphs">src/openvpn/ssl_openssl.c</text>
<rect x="1838.00" y="320.65" width="132.00" height="25.60" fill="#ffffff" stroke="#666666" stroke-width="1.9"/>
<text x="1904.00" y="336.75" text-anchor="middle" textLength="113.90" lengthAdjust="spacingAndGlyphs">src/openvpn/ssl.h</text>
<rect x="2290.00" y="320.65" width="164.00" height="25.60" fill="#fff0f0" stroke="#ff0000" stroke-width="1.9"/>
<text x="2372.00" y="336.75" text-anchor="middle" textLength="144.03" lengthAdjust="spacingAndGlyphs">src/openvpn/ssl_ncp.h</text>
<rect x="2531.00" y="320.65" width="161.00" height="25.60" fill="#ffffff" stroke="#666666" stroke-width="1.9"/>
<text x="2611.50" y="336.75" text-anchor="middle" textLength="140.18" lengthAdjust="spacingAndGlyphs">src/openvpn/ssl_pkt.c</text>
<rect x="2717.00" y="313.65" width="182.00" height="39.60" fill="#ffffff" stroke="#666666" stroke-width="1.9"/>
<text x="2808.00" y="329.25" text-anchor="middle" textLength="160.55" lengthAdjust="spacingAndGlyphs">tests/unit_tests/openvpn</text>
<text x="2808.00" y="344.05" text-anchor="middle" textLength="109.02" lengthAdjust="spacingAndGlyphs">/test_packet_id.c</text>
<rect x="2924.00" y="313.65" width="182.00" height="39.60" fill="#ffffff" stroke="#666666" stroke-width="1.9"/>
<text x="3015.00" y="329.25" text-anchor="middle" textLength="160.55" lengthAdjust="spacingAndGlyphs">tests/unit_tests/openvpn</text>
<text x="3015.00" y="344.05" text-anchor="middle" textLength="68.00" lengthAdjust="spacingAndGlyphs">/test_pkt.c</text>
<rect x="3131.00" y="320.65" width="165.00" height="25.60" fill="#ffffff" stroke="#666666" stroke-width="1.9"/>
<text x="3213.50" y="336.75" text-anchor="middle" textLength="143.76" lengthAdjust="spacingAndGlyphs">src/openvpn/reliable.c</text>
<rect x="3473.00" y="313.65" width="182.00" height="39.60" fill="#ffffff" stroke="#666666" stroke-width="1.9"/>
<text x="3564.00" y="329.25" text-anchor="middle" textLength="160.55" lengthAdjust="spacingAndGlyphs">tests/unit_tests/openvpn</text>
<text x="3564.00" y="344.05" text-anchor="middle" textLength="88.39" lengthAdjust="spacingAndGlyphs">/test_crypto.c</text>
<rect x="670.00" y="408.25" width="171.00" height="25.60" fill="#ffffff" stroke="#666666" stroke-width="1.9"/>
<text x="755.50" y="424.35" text-anchor="middle" textLength="153.37" lengthAdjust="spacingAndGlyphs">src/openvpn/openvpn.h</text>
<rect x="1120.00" y="408.25" width="171.00" height="25.60" fill="#fff0f0" stroke="#ff0000" stroke-width="1.9"/>
<text x="1205.50" y="424.35" text-anchor="middle" textLength="151.16" lengthAdjust="spacingAndGlyphs">src/openvpn/tls_crypt.c</text>
<rect x="1439.00" y="401.25" width="195.00" height="39.60" fill="#ffffff" stroke="#666666" stroke-width="1.9"/>
<text x="1450.57" y="416.85" text-anchor="start" textLength="160.55" lengthAdjust="spacingAndGlyphs">tests/unit_tests/openvpn</text>
<text x="1450.57" y="431.65" text-anchor="start" textLength="171.87" lengthAdjust="spacingAndGlyphs">/mock_ssl_dependencies.c</text>
<rect x="1659.00" y="401.25" width="181.00" height="39.60" fill="#ffffff" stroke="#666666" stroke-width="1.9"/>
<text x="1749.50" y="416.85" text-anchor="middle" textLength="160.55" lengthAdjust="spacingAndGlyphs">tests/unit_tests/openvpn</text>
<text x="1749.50" y="431.65" text-anchor="middle" textLength="93.37" lengthAdjust="spacingAndGlyphs">/test_pkcs11.c</text>
<rect x="2018.00" y="408.25" width="146.00" height="25.60" fill="#ffffff" stroke="#666666" stroke-width="1.9"/>
<text x="2091.00" y="424.35" text-anchor="middle" textLength="127.15" lengthAdjust="spacingAndGlyphs">src/openvpn/push.c</text>
<rect x="3499.00" y="401.25" width="181.00" height="39.60" fill="#ffffff" stroke="#666666" stroke-width="1.9"/>
<text x="3589.50" y="416.85" text-anchor="middle" textLength="160.55" lengthAdjust="spacingAndGlyphs">tests/unit_tests/openvpn</text>
<text x="3589.50" y="431.65" text-anchor="middle" textLength="64.28" lengthAdjust="spacingAndGlyphs">/test_ssl.c</text>
<rect x="11.00" y="489.00" width="138.00" height="25.60" fill="#fff0f0" stroke="#ff0000" stroke-width="1.9"/>
<text x="80.00" y="505.10" text-anchor="middle" textLength="117.30" lengthAdjust="spacingAndGlyphs">src/openvpn/init.h</text>
<rect x="331.00" y="489.00" width="165.00" height="25.60" fill="#fff0f0" stroke="#ff0000" stroke-width="1.9"/>
<text x="413.50" y="505.10" text-anchor="middle" textLength="146.58" lengthAdjust="spacingAndGlyphs">src/openvpn/forward.h</text>
<rect x="522.00" y="489.00" width="136.00" height="25.60" fill="#ffffff" stroke="#666666" stroke-width="1.9"/>
<text x="590.00" y="505.10" text-anchor="middle" textLength="117.22" lengthAdjust="spacingAndGlyphs">src/openvpn/tun.c</text>
<rect x="683.00" y="489.00" width="144.00" height="25.60" fill="#fff0f0" stroke="#ff0000" stroke-width="1.9"/>
<text x="755.00" y="505.10" text-anchor="middle" textLength="124.25" lengthAdjust="spacingAndGlyphs">src/openvpn/vlan.h</text>
<rect x="904.00" y="489.00" width="171.00" height="25.60" fill="#ffffff" stroke="#666666" stroke-width="1.9"/>
<text x="989.50" y="505.10" text-anchor="middle" textLength="150.88" lengthAdjust="spacingAndGlyphs">src/openvpn/platform.c</text>
<rect x="1153.00" y="489.00" width="167.00" height="25.60" fill="#ffffff" stroke="#666666" stroke-width="1.9"/>
<text x="1236.50" y="505.10" text-anchor="middle" textLength="148.73" lengthAdjust="spacingAndGlyphs">src/openvpn/manage.c</text>
<rect x="1456.00" y="489.00" width="187.00" height="25.60" fill="#fff0f0" stroke="#ff0000" stroke-width="1.9"/>
<text x="1549.50" y="505.10" text-anchor="middle" textLength="168.04" lengthAdjust="spacingAndGlyphs">src/openvpn/auth_token.c</text>
<rect x="1699.00" y="489.00" width="163.00" height="25.60" fill="#fff0f0" stroke="#ff0000" stroke-width="1.9"/>
<text x="1780.50" y="505.10" text-anchor="middle" textLength="142.94" lengthAdjust="spacingAndGlyphs">src/openvpn/ssl_ncp.c</text>
<rect x="2135.00" y="489.00" width="134.00" height="25.60" fill="#ffffff" stroke="#666666" stroke-width="1.9"/>
<text x="2202.00" y="505.10" text-anchor="middle" textLength="112.80" lengthAdjust="spacingAndGlyphs">src/openvpn/ssl.c</text>
<rect x="5.00" y="562.60" width="134.00" height="25.60" fill="#ffffff" stroke="#666666" stroke-width="1.9"/>
<text x="72.00" y="578.70" text-anchor="middle" textLength="114.28" lengthAdjust="spacingAndGlyphs">src/openvpn/sig.c</text>
<rect x="165.00" y="562.60" width="148.00" height="25.60" fill="#ffffff" stroke="#666666" stroke-width="1.9"/>
<text x="239.00" y="578.70" text-anchor="middle" textLength="130.04" lengthAdjust="spacingAndGlyphs">src/openvpn/proxy.c</text>
<rect x="339.00" y="562.60" width="157.00" height="25.60" fill="#ffffff" stroke="#666666" stroke-width="1.9"/>
<text x="417.50" y="578.70" text-anchor="middle" textLength="137.68" lengthAdjust="spacingAndGlyphs">src/openvpn/socket.c</text>
<rect x="905.00" y="562.60" width="169.00" height="25.60" fill="#ffffff" stroke="#666666" stroke-width="1.9"/>
<text x="989.50" y="578.70" text-anchor="middle" textLength="147.98" lengthAdjust="spacingAndGlyphs">src/openvpn/dco_win.c</text>
<rect x="2435.00" y="562.60" width="141.00" height="25.60" fill="#ffffff" stroke="#666666" stroke-width="1.9"/>
<text x="2505.50" y="578.70" text-anchor="middle" textLength="121.86" lengthAdjust="spacingAndGlyphs">src/openvpn/mss.c</text>
<rect x="2602.00" y="562.60" width="162.00" height="25.60" fill="#ffffff" stroke="#666666" stroke-width="1.9"/>
<text x="2683.00" y="578.70" text-anchor="middle" textLength="143.53" lengthAdjust="spacingAndGlyphs">src/openvpn/options.c</text>
</svg></body></html>
